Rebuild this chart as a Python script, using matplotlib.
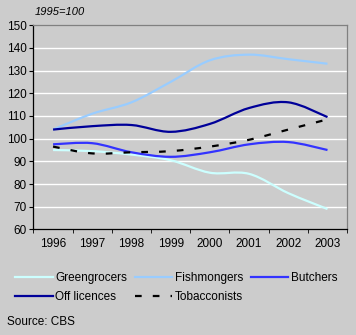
import matplotlib
matplotlib.use("Agg")
import matplotlib.pyplot as plt
from matplotlib.path import Path
from matplotlib.patches import PathPatch
from matplotlib.lines import Line2D
import numpy as np

years = ["1996", "1997", "1998", "1999", "2000", "2001", "2002", "2003"]
greengrocers = [95, 94.5, 93, 90.5, 85, 84.5, 76, 69]
fishmongers = [104, 111, 116, 125, 134.5, 137, 135, 133]
butchers = [97.5, 98, 94, 92, 94, 97.5, 98.5, 95]
off_licences = [104, 105.5, 106, 103, 106.5, 113.5, 116, 109.5]
tobacconists = [96.5, 93.5, 94, 94.5, 96.5, 99.5, 104, 108.5]

series = [
    ("Greengrocers", greengrocers, "#ccffff", "-"),
    ("Fishmongers", fishmongers, "#99ccff", "-"),
    ("Butchers", butchers, "#3333ff", "-"),
    ("Off licences", off_licences, "#000099", "-"),
    ("Tobacconists", tobacconists, "#000000", (0, (3, 5))),
]

plt.rcParams['font.family'] = ['Liberation Sans', 'DejaVu Sans']
bg = "#cccccc"
fig = plt.figure(figsize=(3.56, 3.35), dpi=100, facecolor=bg)
ax = fig.add_axes([0.094, 0.315, 0.881, 0.61])
ax.set_facecolor(bg)


def smooth_path(x, y):
    pts = np.column_stack([x, y]).astype(float)
    n = len(pts)
    verts = [pts[0]]
    codes = [Path.MOVETO]
    for i in range(n - 1):
        p0 = pts[i - 1] if i > 0 else pts[i]
        p1 = pts[i]
        p2 = pts[i + 1]
        p3 = pts[i + 2] if i + 2 < n else pts[i + 1]
        c1 = p1 + (p2 - p0) / 6.0
        c2 = p2 - (p3 - p1) / 6.0
        verts += [c1, c2, p2]
        codes += [Path.CURVE4] * 3
    return Path(verts, codes)


xs = np.arange(len(years))
handles = {}
for name, vals, col, ls in series:
    patch = PathPatch(smooth_path(xs, vals), facecolor="none", edgecolor=col,
                      linewidth=1.6, linestyle=ls, zorder=3, capstyle="butt")
    ax.add_patch(patch)
    handles[name] = Line2D([], [], color=col, linewidth=1.6, linestyle=ls)

ax.set_xlim(-0.5, len(years) - 0.5)
ax.set_ylim(60, 150)
ax.set_yticks(range(60, 151, 10))
ax.set_xticks(xs)
ax.set_xticklabels(years)
ax.set_xticks(np.arange(-0.5, len(years)), minor=True)
ax.tick_params(axis="x", which="major", length=0, pad=6, labelsize=8.5)
ax.tick_params(axis="x", which="minor", length=3, direction="out")
ax.tick_params(axis="y", length=3, direction="out", pad=2, labelsize=8.5)
for v in range(70, 150, 10):
    ax.axhline(v, color="white", linewidth=1, zorder=1)
ax.spines["left"].set_color("black")
ax.spines["bottom"].set_color("black")
ax.spines["top"].set_color("#808080")
ax.spines["right"].set_color("#808080")
for s in ax.spines.values():
    s.set_linewidth(0.9)

fig.text(0.098, 0.963, "1995=100", fontsize=8, style="italic", va="center")

order = ["Greengrocers", "Off licences", "Fishmongers", "Tobacconists", "Butchers"]
leg = fig.legend([handles[k] for k in order], order, ncol=3, loc="upper left",
                 bbox_to_anchor=(0.042, 0.188), frameon=False, fontsize=8.5,
                 handlelength=3.2, handletextpad=0.2, columnspacing=0.65,
                 labelspacing=0.62, borderaxespad=0, borderpad=0)

fig.text(0.02, 0.038, "Source: CBS", fontsize=8.5, va="center")

fig.savefig("out.png", dpi=100, facecolor=bg)
